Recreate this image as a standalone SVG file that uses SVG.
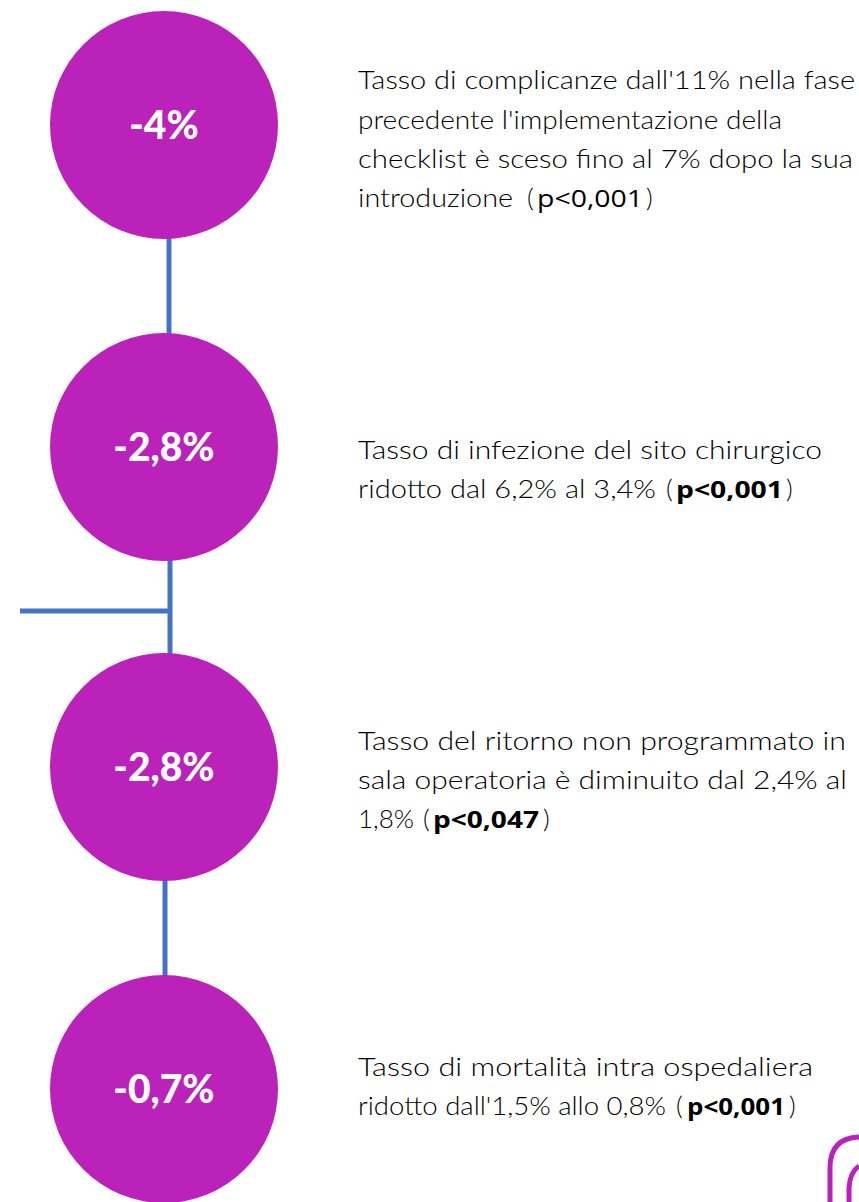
<svg xmlns="http://www.w3.org/2000/svg" width="859" height="1202" viewBox="0 0 859 1202">
<style>
.c{fill:#BA22BA}
.ct{fill:#fff;font-family:Lato,"Open Sans",sans-serif;font-weight:900;font-size:39px;text-anchor:middle}
.t{fill:#000;font-family:Lato,"Noto Sans",sans-serif;font-weight:300;font-size:26px}
.b{fill:#000;font-family:"Open Sans","Liberation Sans",sans-serif;font-weight:700;font-size:23px}
.r{fill:#000;font-family:"Open Sans","Liberation Sans",sans-serif;font-weight:400;font-size:23px}
.ln{stroke:#4472C4;stroke-width:5;fill:none}
</style>
<rect width="859" height="1202" fill="#fff"/>
<g id="connectors">
<line class="ln" x1="169" y1="236" x2="169" y2="336"/>
<line class="ln" x1="170" y1="558" x2="170" y2="656"/>
<line class="ln" x1="20" y1="611" x2="170" y2="611"/>
<line class="ln" x1="165" y1="878" x2="165" y2="978"/>
</g>
<g id="node1">
<circle class="c" cx="164" cy="125" r="114"/>
<text class="ct" x="164" y="139">-4%</text>
<text class="t" x="358" y="89" textLength="497" lengthAdjust="spacingAndGlyphs">Tasso di complicanze dall'11% nella fase</text>
<text class="t" x="358" y="129" textLength="424" lengthAdjust="spacingAndGlyphs">precedente l'implementazione della</text>
<text class="t" x="358" y="168" textLength="495" lengthAdjust="spacingAndGlyphs">checklist è sceso fino al 7% dopo la sua</text>
<text class="t" x="358" y="207" textLength="155" lengthAdjust="spacingAndGlyphs">introduzione</text>
<text class="t" x="527" y="207">(</text>
<text class="r" x="537" y="207" textLength="106" lengthAdjust="spacingAndGlyphs">p&lt;0,001</text>
<text class="t" x="646" y="207">)</text>
</g>
<g id="node2">
<circle class="c" cx="164" cy="447" r="114"/>
<text class="ct" x="164" y="461">-2,8%</text>
<text class="t" x="358" y="459" textLength="464" lengthAdjust="spacingAndGlyphs">Tasso di infezione del sito chirurgico</text>
<text class="t" x="358" y="498" textLength="298" lengthAdjust="spacingAndGlyphs">ridotto dal 6,2% al 3,4%</text>
<text class="t" x="666" y="498">(</text>
<text class="b" x="676" y="498" textLength="107" lengthAdjust="spacingAndGlyphs">p&lt;0,001</text>
<text class="t" x="786" y="498">)</text>
</g>
<g id="node3">
<circle class="c" cx="164" cy="767" r="114"/>
<text class="ct" x="164" y="781">-2,8%</text>
<text class="t" x="358" y="750" textLength="488" lengthAdjust="spacingAndGlyphs">Tasso del ritorno non programmato in</text>
<text class="t" x="358" y="789" textLength="489" lengthAdjust="spacingAndGlyphs">sala operatoria è diminuito dal 2,4% al</text>
<text class="t" x="358" y="828">1,8%</text>
<text class="t" x="423" y="828">(</text>
<text class="b" x="433" y="828" textLength="106" lengthAdjust="spacingAndGlyphs">p&lt;0,047</text>
<text class="t" x="543" y="828">)</text>
</g>
<g id="node4">
<circle class="c" cx="164" cy="1089" r="114"/>
<text class="ct" x="164" y="1103">-0,7%</text>
<text class="t" x="358" y="1076" textLength="455" lengthAdjust="spacingAndGlyphs">Tasso di mortalità intra ospedaliera</text>
<text class="t" x="358" y="1115" textLength="308" lengthAdjust="spacingAndGlyphs">ridotto dall'1,5% allo 0,8%</text>
<text class="t" x="676" y="1115">(</text>
<text class="b" x="687" y="1115" textLength="98" lengthAdjust="spacingAndGlyphs">p&lt;0,001</text>
<text class="t" x="789" y="1115">)</text>
</g>
<g id="icon">
<path d="M830 1202 V1168 Q830 1138 859 1137" stroke="#BA22BA" stroke-width="5" fill="none"/>
<path d="M849 1202 V1188 Q850 1172 859 1166" stroke="#BA22BA" stroke-width="5" fill="none"/>
</g>
</svg>
